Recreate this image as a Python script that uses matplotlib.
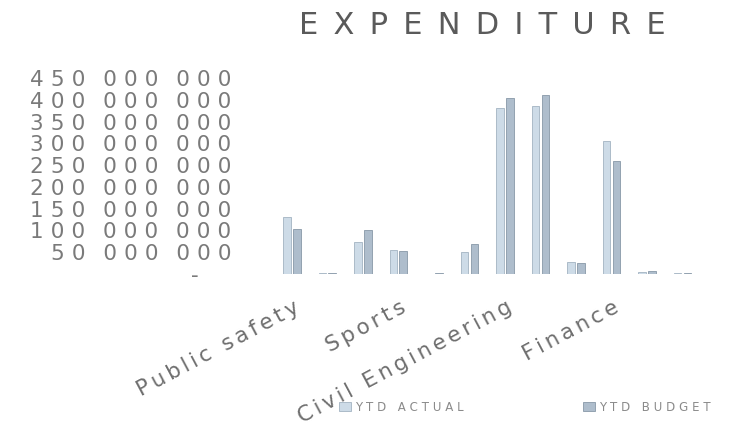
"""
EXPENDITURE: YTD actual vs YTD budget per department (clustered columns).
"""

import numpy as np
import matplotlib.pyplot as plt
from matplotlib.transforms import ScaledTranslation


# Only every third category name is printed on the source chart
CATEGORIES = ['Public safety', '', '', 'Sports', '', '', 'Civil Engineering',
              '', '', 'Finance', '', '']
YTD_ACTUAL = [131e6, 2e6, 74e6, 55e6, 1e6, 51e6, 381e6, 386e6, 28e6, 306e6, 4e6, 1.5e6]
YTD_BUDGET = [103e6, 3e6, 100e6, 53e6, 2e6, 68e6, 404e6, 411e6, 25e6, 260e6, 6e6, 2e6]
SERIES = ['YTD ACTUAL', 'YTD BUDGET']
Y_TICKS = np.arange(0, 450e6 + 1, 50e6)

C_ACTUAL = '#cddbe7'
C_BUDGET = '#aebdcc'
TXT = '#7a7a7a'

# extra spaces fake the wide letter spacing of the original (Century Gothic like) font
SP3 = '\u2004'
SP6 = '\u2006'
EN = '\u2002'


def spaced(s, sep=SP3):
    return sep.join(s)


def ylab(v):
    if v == 0:
        return '-' + '\u2003' + EN
    groups = f'{int(v):,}'.split(',')
    return (EN + SP3).join(SP3.join(g) for g in groups)


fig = plt.figure(figsize=(7.31, 4.28), dpi=100)
ax = fig.add_axes([0.375, 0.3598, 0.583, 0.458])

x = np.arange(len(CATEGORIES))
w, off = 0.22, 0.14
ax.bar(x - off, YTD_ACTUAL, w, color=C_ACTUAL, edgecolor='#a3b3c2', lw=0.6,
       label=spaced(SERIES[0]))
ax.bar(x + off, YTD_BUDGET, w, color=C_BUDGET, edgecolor='#8898a8', lw=0.6,
       label=spaced(SERIES[1]))

ax.set_xlim(-0.5, len(CATEGORIES) - 0.5)
ax.set_ylim(0, 450e6)
ax.set_yticks(Y_TICKS)
ax.set_yticklabels([ylab(v) for v in Y_TICKS], fontsize=15.5, color=TXT)
ax.set_xticks(x)
ax.set_xticklabels([spaced(c, SP6) for c in CATEGORIES], rotation=28, ha='right',
                   va='center', rotation_mode='anchor', fontsize=15.5, color='#6e6e6e')
ax.tick_params(axis='both', length=0)
ax.tick_params(axis='y', pad=31)
ax.tick_params(axis='x', pad=23)
shift = ScaledTranslation(6 / 100, 0, fig.dpi_scale_trans)
for lab in ax.get_xticklabels():
    lab.set_transform(lab.get_transform() + shift)
for s in ax.spines.values():
    s.set_visible(False)

fig.text(0.66, 0.94, spaced('EXPENDITURE', EN), ha='center', va='center',
         fontsize=22, color='#5a5a5a')

h, l = ax.get_legend_handles_labels()
for i, xa in enumerate([0.549, 0.885]):
    fig.legend([h[i]], [l[i]], loc='center', bbox_to_anchor=(xa, 0.049), frameon=False,
               fontsize=8.5, labelcolor='#8a8a8a', handlelength=1.0, handleheight=0.8,
               handletextpad=0.3)

fig.savefig('out.png', dpi=100)
